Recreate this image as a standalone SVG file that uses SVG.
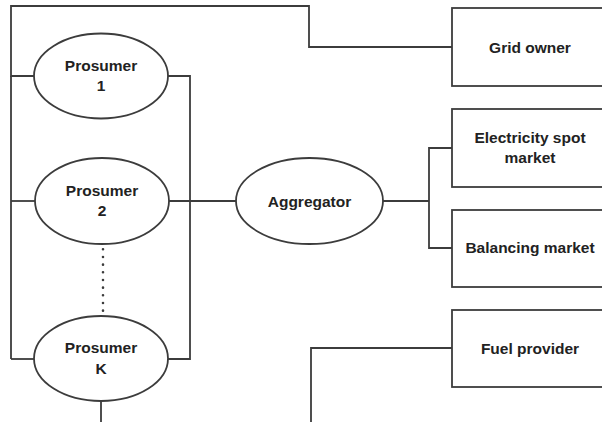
<svg xmlns="http://www.w3.org/2000/svg" width="602" height="422" viewBox="0 0 602 422">
  <style>
    .shape { fill: #ffffff; stroke: #3c3c3c; stroke-width: 1.8; }
    .wire { fill: none; stroke: #3c3c3c; stroke-width: 1.8; }
    .dots { fill: none; stroke: #3c3c3c; stroke-width: 2.6; stroke-dasharray: 0 7.67; stroke-linecap: round; }
    text { font-family: "Liberation Sans", Arial, sans-serif; font-weight: bold; font-size: 15.5px; fill: #222222; text-anchor: middle; }
  </style>
  <rect width="602" height="422" fill="#ffffff"/>

  <g id="connectors">
    <!-- outer loop to grid owner -->
    <polyline class="wire" points="34,76 11,76 11,6 309,6 309,47 452,47"/>
    <line class="wire" x1="11" y1="76" x2="11" y2="359"/>
    <line class="wire" x1="11" y1="201" x2="35" y2="201"/>
    <line class="wire" x1="11" y1="359" x2="34" y2="359"/>
    <!-- prosumer bus to aggregator -->
    <polyline class="wire" points="168,76 190,76 190,359 168,359"/>
    <line class="wire" x1="169" y1="201" x2="236" y2="201"/>
    <!-- aggregator to markets -->
    <line class="wire" x1="383" y1="201" x2="429" y2="201"/>
    <polyline class="wire" points="452,148 429,148 429,248 452,248"/>
    <!-- fuel provider -->
    <polyline class="wire" points="452,348 311,348 311,430"/>
    <line class="wire" x1="101" y1="401" x2="101" y2="430"/>
    <!-- further prosumers -->
    <line class="dots" x1="103" y1="249.3" x2="103" y2="311"/>
  </g>

  <g id="prosumer-1">
    <ellipse class="shape" cx="101" cy="76" rx="67" ry="42.5"/>
    <text x="101" y="71">Prosumer</text>
    <text x="101" y="91">1</text>
  </g>
  <g id="prosumer-2">
    <ellipse class="shape" cx="102" cy="201" rx="67" ry="43"/>
    <text x="102" y="196">Prosumer</text>
    <text x="102" y="216">2</text>
  </g>
  <g id="prosumer-k">
    <ellipse class="shape" cx="101" cy="358.5" rx="67" ry="42.5"/>
    <text x="101" y="353">Prosumer</text>
    <text x="101" y="374">K</text>
  </g>
  <g id="aggregator">
    <ellipse class="shape" cx="309.5" cy="201" rx="73.5" ry="43"/>
    <text x="309.5" y="206.5">Aggregator</text>
  </g>
  <g id="grid-owner">
    <rect class="shape" x="452" y="8" width="160" height="78"/>
    <text x="530" y="52.5">Grid owner</text>
  </g>
  <g id="electricity-spot-market">
    <rect class="shape" x="452" y="109" width="160" height="78"/>
    <text x="530" y="143">Electricity spot</text>
    <text x="530" y="163">market</text>
  </g>
  <g id="balancing-market">
    <rect class="shape" x="452" y="210" width="160" height="77"/>
    <text x="530" y="253">Balancing market</text>
  </g>
  <g id="fuel-provider">
    <rect class="shape" x="452" y="310" width="160" height="77"/>
    <text x="530" y="354">Fuel provider</text>
  </g>
</svg>
